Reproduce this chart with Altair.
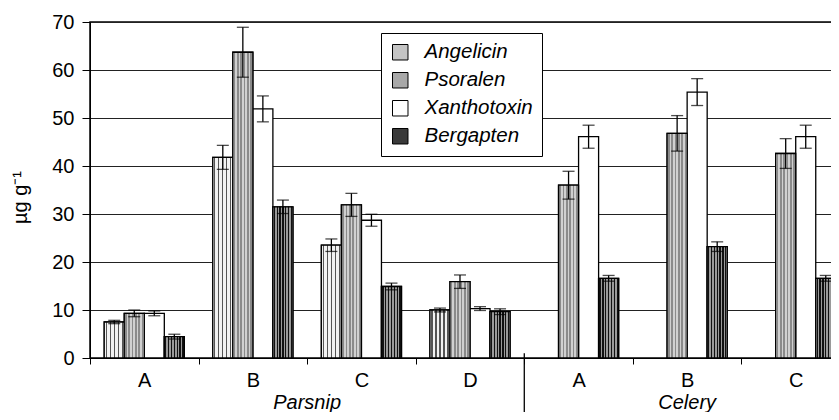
import altair as alt
import pandas as pd

# ---------------- data ----------------
plants = ["Parsnip", "Parsnip", "Parsnip", "Parsnip", "Celery", "Celery", "Celery"]
samples = ["A", "B", "C", "D", "A", "B", "C"]
series = ["Angelicin", "Psoralen", "Xanthotoxin", "Bergapten"]

angelicin = [7.5, 41.8, 23.5, 10.0, None, None, None]
angelicin_err = [0.35, 2.5, 1.3, 0.4, None, None, None]
psoralen = [9.3, 63.7, 31.9, 15.9, 36.0, 46.8, 42.6]
psoralen_err = [0.7, 5.2, 2.4, 1.4, 2.9, 3.7, 3.1]
xanthotoxin = [9.3, 51.9, 28.7, 10.3, 46.1, 55.4, 46.1]
xanthotoxin_err = [0.5, 2.7, 1.25, 0.4, 2.4, 2.8, 2.4]
bergapten = [4.45, 31.5, 14.9, 9.65, 16.6, 23.2, 16.6]
bergapten_err = [0.5, 1.4, 0.7, 0.6, 0.6, 1.0, 0.6]

region_labels = ["Parsnip", "Celery"]
region_anchor = ["Parsnip|C", "Celery|B"]
y_ticks = [0, 10, 20, 30, 40, 50, 60, 70]

# ---------------- table ----------------
groups = [f"{p}|{s}" for p, s in zip(plants, samples)]
rows = []
for name, vals, errs in [
    ("Angelicin", angelicin, angelicin_err),
    ("Psoralen", psoralen, psoralen_err),
    ("Xanthotoxin", xanthotoxin, xanthotoxin_err),
    ("Bergapten", bergapten, bergapten_err),
]:
    for g, v, e in zip(groups, vals, errs):
        if v is None:
            continue
        rows.append({"group": g, "series": name, "value": v, "lo": v - e, "hi": v + e})
df = pd.DataFrame(rows)

FONT = "Liberation Sans"


def stripes(n, line, bg, frac):
    stops = []
    for i in range(n):
        a = i / n
        b = a + (0.5 - frac / 2) / n
        c = a + (0.5 + frac / 2) / n
        d = (i + 1) / n
        stops += [
            alt.GradientStop(color=bg, offset=a),
            alt.GradientStop(color=bg, offset=b),
            alt.GradientStop(color=line, offset=b),
            alt.GradientStop(color=line, offset=c),
            alt.GradientStop(color=bg, offset=c),
            alt.GradientStop(color=bg, offset=d),
        ]
    return alt.Gradient(gradient="linear", stops=stops, x1=0, x2=1, y1=0, y2=0)


x_scale = alt.Scale(domain=groups, paddingInner=0, paddingOuter=0)

x_enc = alt.X(
    "group:N",
    sort=groups,
    scale=x_scale,
    axis=alt.Axis(
        title=None,
        labelExpr="split(datum.label, '|')[1]",
        labelAngle=0,
        labelFontSize=20,
        labelColor="black",
        labelPadding=6,
        tickBand="extent",
        tickSize=6,
        tickColor="black",
        domainColor="black",
        grid=False,
    ),
)
xo_enc = alt.XOffset(
    "series:N", sort=series, scale=alt.Scale(domain=series, paddingOuter=0.71, paddingInner=0)
)
y_enc = alt.Y(
    "value:Q",
    scale=alt.Scale(domain=[0, 70], nice=False),
    axis=alt.Axis(
        values=y_ticks,
        title="µg g⁻¹",
        titleFontSize=20,
        titleFontWeight="normal",
        titleColor="black",
        titleX=-64,
        titleY=175,
        titleAngle=-90,
        titleBaseline="alphabetic",
        labelFontSize=20,
        labelColor="black",
        labelPadding=8,
        tickSize=8,
        tickColor="black",
        domainColor="black",
        grid=True,
        gridColor="#222222",
        gridWidth=1,
    ),
)

base = alt.Chart(df)

bars = base.mark_bar(stroke="black", strokeWidth=1.3).encode(
    x=x_enc,
    xOffset=xo_enc,
    y=y_enc,
    fill=alt.Fill(
        "series:N",
        sort=series,
        scale=alt.Scale(domain=series, range=["#c4c4c4", "#a8a8a8", "#ffffff", "#3a3a3a"]),
        legend=alt.Legend(
            title=None,
            orient="none",
            legendX=291,
            legendY=11,
            direction="vertical",
            fillColor="white",
            strokeColor="black",
            padding=9,
            symbolType="square",
            symbolSize=240,
            symbolStrokeColor="black",
            symbolStrokeWidth=1,
            symbolOpacity=1,
            labelFontSize=20.5,
            labelFontStyle="italic",
            labelFont=FONT,
            labelColor="black",
            labelOffset=14,
            rowPadding=7,
        ),
    ),
)

ang_over = (
    base.transform_filter(alt.datum.series == "Angelicin")
    .mark_bar(fill=stripes(5, "#555555", "#f2f2f2", 0.3), stroke="black", strokeWidth=1.3)
    .encode(x=x_enc, xOffset=xo_enc, y=y_enc)
)
pso_over = (
    base.transform_filter(alt.datum.series == "Psoralen")
    .mark_bar(fill=stripes(6, "#8a8a8a", "#d0d0d0", 0.5), stroke="black", strokeWidth=1.3)
    .encode(x=x_enc, xOffset=xo_enc, y=y_enc)
)
ber_over = (
    base.transform_filter(alt.datum.series == "Bergapten")
    .mark_bar(fill=stripes(7, "#111111", "#9a9a9a", 0.45), stroke="black", strokeWidth=1.3)
    .encode(x=x_enc, xOffset=xo_enc, y=y_enc)
)

err_rule = base.mark_rule(color="black", strokeWidth=1.3).encode(
    x=x_enc, xOffset=xo_enc, y=alt.Y("lo:Q"), y2="hi:Q"
)
cap_lo = base.mark_tick(color="black", size=12, thickness=1.3, orient="horizontal").encode(
    x=x_enc, xOffset=xo_enc, y=alt.Y("lo:Q")
)
cap_hi = base.mark_tick(color="black", size=12, thickness=1.3, orient="horizontal").encode(
    x=x_enc, xOffset=xo_enc, y=alt.Y("hi:Q")
)

sep = (
    alt.Chart(pd.DataFrame({"group": ["Celery|A"]}))
    .mark_rule(color="black", strokeWidth=1.3)
    .encode(x=alt.X("group:N", bandPosition=0, scale=x_scale), y=alt.datum(1), y2=alt.value(400))
)

reg_df = pd.DataFrame({"group": region_anchor, "label": region_labels})
reg1 = (
    alt.Chart(reg_df)
    .transform_filter(alt.datum.label == "Parsnip")
    .mark_text(fontSize=20, fontStyle="italic", font=FONT, baseline="alphabetic", color="black")
    .encode(x=alt.X("group:N", bandPosition=0, scale=x_scale), y=alt.value(387), text="label:N")
)
reg2 = (
    alt.Chart(reg_df)
    .transform_filter(alt.datum.label == "Celery")
    .mark_text(fontSize=20, fontStyle="italic", font=FONT, baseline="alphabetic", color="black")
    .encode(x=alt.X("group:N", bandPosition=0.5, scale=x_scale), y=alt.value(387), text="label:N")
)

chart = (
    alt.layer(bars, ang_over, pso_over, ber_over, err_rule, cap_lo, cap_hi, sep, reg1, reg2)
    .properties(
        width=760,
        height=336,
        autosize=alt.AutoSizeParams(type="none"),
        padding={"left": 82, "top": 14, "right": -19, "bottom": 54},
    )
    .configure(font=FONT)
    .configure_view(stroke="black", strokeWidth=1.5)
)

chart.save("out.html", embed_options={"renderer": "svg", "actions": False})
